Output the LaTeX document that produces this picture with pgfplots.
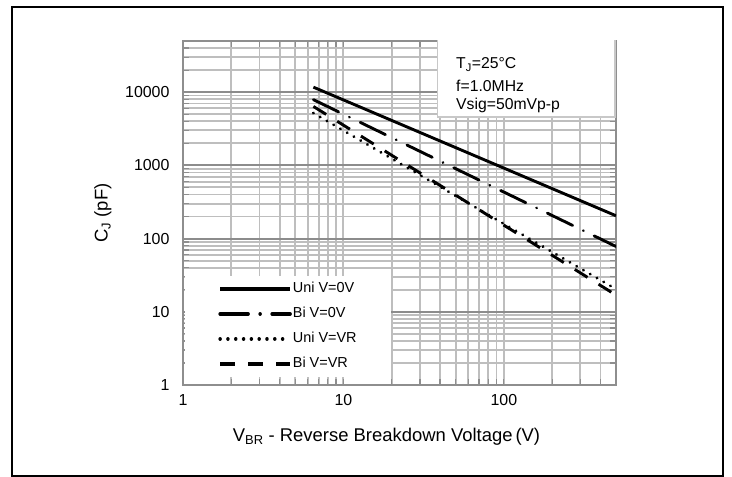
\documentclass[border=0pt]{standalone}
\usepackage{fontspec}
\setmainfont{Liberation Sans}
\usepackage{pgfplots}
\pgfplotsset{compat=1.18}
\definecolor{majgrid}{HTML}{8C8C8C}
\definecolor{mingrid}{HTML}{BEBEBE}
\definecolor{axline}{HTML}{8E8E8E}
\definecolor{boxline}{HTML}{C8C8C8}
\begin{document}
\begin{tikzpicture}[x=1bp,y=1bp]
\path (0,0) rectangle (732,477);
\begin{axis}[
  at={(183bp,92bp)}, anchor=south west,
  scale only axis, width=433bp, height=344bp,
  xmode=log, ymode=log,
  xmin=1, xmax=500, ymin=1, ymax=50000,
  xtick={1,10,100}, xticklabels={1,10,100},
  ytick={1,10,100,1000,10000}, yticklabels={1,10,100,1000,10000},
  minor xtick={2,3,4,5,6,7,8,9,20,30,40,50,60,70,80,90,200,300,400},
  minor ytick={2,3,4,5,6,7,8,9,20,30,40,50,60,70,80,90,200,300,400,500,600,700,800,900,2000,3000,4000,5000,6000,7000,8000,9000,20000,30000,40000},
  /pgf/number format/assume math mode=true,
  xmajorgrids, xminorgrids, ymajorgrids, yminorgrids,
  grid style={draw=mingrid, line width=1.9bp},
  major grid style={draw=mingrid, line width=1.9bp},
  minor grid style={draw=mingrid, line width=1.9bp},
  extra y ticks={10,100,1000,10000}, extra y tick labels={},
  extra y tick style={major grid style={draw=majgrid, line width=1.9bp}},
  axis line style={draw=axline, line width=1.8bp},
  tick style={draw=axline, line width=1.2bp},
  major tick length=6bp, minor tick length=6bp,
  tick align=inside,
  ticklabel style={font=\fontsize{16}{19}\selectfont},
  yticklabel style={xshift=-10bp},
  xticklabel style={yshift=-6bp},
  xlabel={V\textsubscript{BR} - Reverse Breakdown Voltage\,(V)},
  xlabel style={font=\fontsize{18.5}{22}\selectfont, at={(axis description cs:0.47,-0.151)}, anchor=center},
  ylabel={C\textsubscript{J} (pF)},
  ylabel style={font=\fontsize{18.5}{22}\selectfont, at={(axis description cs:-0.185,0.5)}, anchor=center},
  legend cell align=left,
  legend style={at={(axis description cs:0.005,0.023)}, anchor=south west,
    draw=none, fill=white, font=\fontsize{14.5}{17}\selectfont,
    inner xsep=33bp, inner ysep=5bp, row sep=9bp,
    nodes={inner sep=1bp, text height=11bp, text depth=3bp}},
  legend image code/.code={\draw[#1] (0bp,0bp) -- (70bp,0bp);},
  legend image post style={line width=3.5bp},
]
\addplot[black, line width=2.9bp] coordinates {(6.5,11700) (500,205)};
\addlegendentry{Uni V=0V}
\addplot[black, line width=2.9bp, line cap=round, dash pattern=on 28bp off 12bp on 0.01bp off 12bp] coordinates {(6.5,7900) (500,78)};
\addlegendentry{Bi V=0V}
\addplot[black, line width=3.2bp, line cap=round, dash pattern=on 0.01bp off 7.8bp] coordinates {(6.5,5180) (500,20.4)};
\addlegendentry{Uni V=VR}
\addplot[black, line width=2.9bp, dash pattern=on 15bp off 13bp] coordinates {(6.5,6380) (500,16.9)};
\addlegendentry{Bi V=VR}
\draw[draw=boxline, line width=1.3bp, fill=white] (axis description cs:0.587,0.779) rectangle (axis description cs:0.998,1.006);
\node[anchor=base west, inner sep=0pt, font=\fontsize{15.8}{19}\selectfont] at (axis description cs:0.6305,0.9186) {T\textsubscript{J}=25°C};
\node[anchor=base west, inner sep=0pt, font=\fontsize{15.8}{19}\selectfont] at (axis description cs:0.6305,0.8526) {f=1.0MHz};
\node[anchor=base west, inner sep=0pt, font=\fontsize{15.8}{19}\selectfont] at (axis description cs:0.6305,0.8015) {Vsig=50mVp-p};
\end{axis}
\draw[black, line width=2bp] (12,1) rectangle (723,470);
\end{tikzpicture}
\end{document}
